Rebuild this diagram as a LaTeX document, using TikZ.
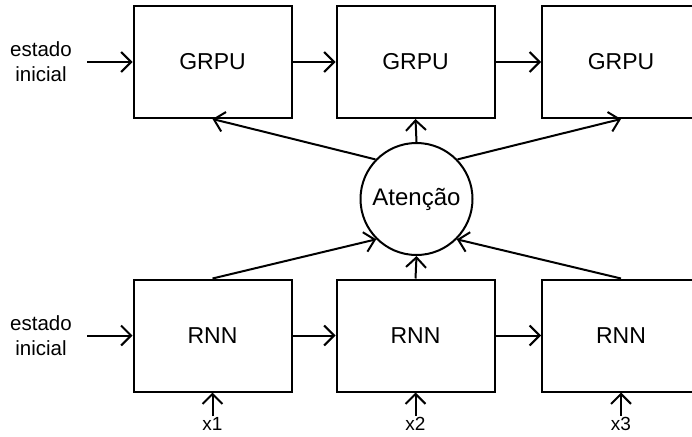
\documentclass[tikz,border=0pt]{standalone}
\usepackage{fontspec}
\setmainfont{Liberation Sans}
\usetikzlibrary{arrows.meta}
\begin{document}
\begin{tikzpicture}[x=1pt,y=-1pt,
  box/.style={draw,line width=2pt,minimum width=158pt,minimum height=112pt,inner sep=0pt,font=\fontsize{23}{27}\selectfont},
  attn/.style={draw,circle,line width=2pt,minimum size=112pt,inner sep=0pt,font=\fontsize{24}{28}\selectfont},
  lbl/.style={align=center,inner sep=1pt,font=\fontsize{20.5}{25}\selectfont},
  xl/.style={inner sep=1pt,font=\fontsize{19}{23}\selectfont},
  conn/.style={line width=2pt,-{Straight Barb[length=10pt,width=20pt,line width=2pt]}}]
\useasboundingbox (0,0) rectangle (692,436);
\node[box] (g1) at (212.5,62) {GRPU};
\node[box] (g2) at (415.5,62) {GRPU};
\node[box] (g3) at (621,62) {GRPU};
\node[box] (r1) at (212.5,335.5) {RNN};
\node[box] (r2) at (415.5,335.5) {RNN};
\node[box] (r3) at (621,335.5) {RNN};
\node[attn] (att) at (416.5,199) {Atenção};
\node[lbl] (e1) at (41,62) {estado\\inicial};
\node[lbl] (e2) at (41,336) {estado\\inicial};
\coordinate (s1) at (87,62);
\coordinate (s2) at (87,335.5);
\node[xl] (x1) at (212.5,424) {x1};
\node[xl] (x2) at (415.5,424) {x2};
\node[xl] (x3) at (621,424) {x3};
\draw[conn] (s1) -- (g1.west);
\draw[conn] (g1.east) -- (g2.west);
\draw[conn] (g2.east) -- (g3.west);
\draw[conn] (s2) -- (r1.west);
\draw[conn] (r1.east) -- (r2.west);
\draw[conn] (r2.east) -- (r3.west);
\draw[conn] (att.136) -- (g1.south);
\draw[conn] (att.north) -- (g2.south);
\draw[conn] (att.44) -- (g3.south);
\draw[conn] (r1.north) -- (att.225);
\draw[conn] (r2.north) -- (att.south);
\draw[conn] (r3.north) -- (att.-45);
\draw[conn] (x1.north) -- (r1.south);
\draw[conn] (x2.north) -- (r2.south);
\draw[conn] (x3.north) -- (r3.south);
\end{tikzpicture}
\end{document}
